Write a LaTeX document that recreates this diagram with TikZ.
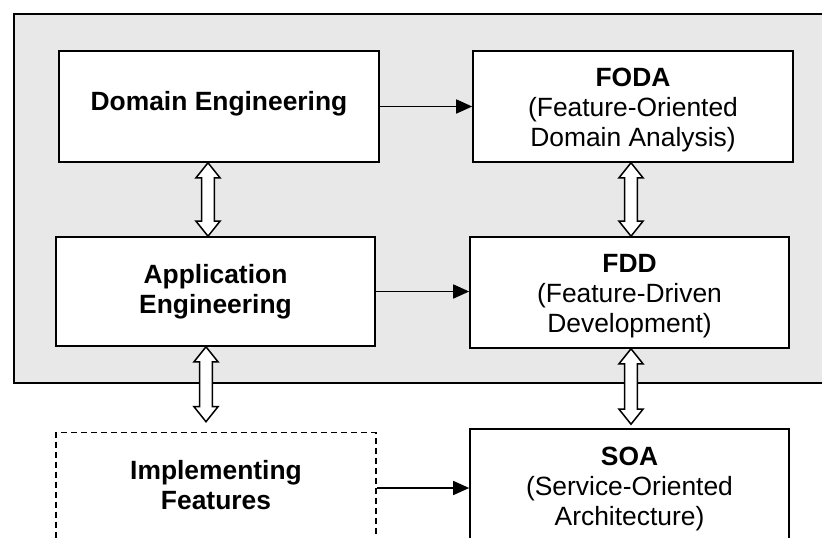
\documentclass[tikz,border=0pt]{standalone}
\usepackage{fontspec}
\setmainfont{Liberation Sans}
\usetikzlibrary{arrows.meta,calc}
\tikzset{
  box/.style={draw,line width=1.6pt,fill=white,minimum width=320pt,minimum height=111pt,align=center,inner sep=0pt},
  dashbox/.style={box,dash pattern=on 6pt off 4pt},
  flow/.style={line width=1.6pt,-{Triangle[length=16pt,width=14pt]}},
  twowayarrow/.style={draw,line width=1.5pt,fill=white,line join=miter},
}
% hollow up/down arrow between two boxes: from, to, x shift, gap above the lower box
\newcommand\twoway[4]{\draw[twowayarrow]let\p1=($(#1.south)+(#3,0)$),\p2=($(#2.north)+(#3,-#4)$)in
  (\x1,\y1)--(\x1+12pt,\y1-15pt)--(\x1+6.3pt,\y1-15pt)--(\x1+6.3pt,\y2+15pt)--(\x1+12pt,\y2+15pt)
  --(\x1,\y2)--(\x1-12pt,\y2+15pt)--(\x1-6.3pt,\y2+15pt)--(\x1-6.3pt,\y1-15pt)--(\x1-12pt,\y1-15pt)--cycle;}
\newcommand\tall{\rule{0pt}{26pt}}% pushes a three-line text a little down
\begin{document}
\begin{tikzpicture}[x=1pt,y=-1pt,font=\fontsize{26.4}{30}\selectfont]
\useasboundingbox(0,0)rectangle(822,538);
\clip(0,0)rectangle(822,538);
\draw[line width=1.6pt,fill=gray!18](14,14)rectangle(840,383);
%
\node[box,text depth=12pt](dom)at(219,106.5){\textbf{Domain Engineering}};
\node[box](foda)at(633,106.5){\tall\textbf{FODA}\\(Feature-Oriented\\Domain Analysis)};
\node[box,minimum width=319pt,minimum height=109pt,text depth=6pt](app)at(215.5,291.5){\textbf{Application}\\\textbf{Engineering}};
\node[box,minimum width=319pt](fdd)at(629.5,292.5){\tall\textbf{FDD}\\(Feature-Driven\\Development)};
\node[dashbox,text depth=6pt](impl)at(216,488){\textbf{Implementing}\\\textbf{Features}};
\node[box,minimum width=319pt,minimum height=112pt](soa)at(629.5,485){\tall\textbf{SOA}\\(Service-Oriented\\Architecture)};
%
\draw[flow](dom)--(foda);
\draw[flow](app.east)--(app.east-|fdd.west);
\draw[flow](impl.east)--(impl.east-|soa.west);
%
\twoway{dom}{app}{-11}{0}
\twoway{foda}{fdd}{-2}{0}
\twoway{app}{impl}{-9.5}{10}
\twoway{fdd}{soa}{1.5}{4}
\end{tikzpicture}
\end{document}
